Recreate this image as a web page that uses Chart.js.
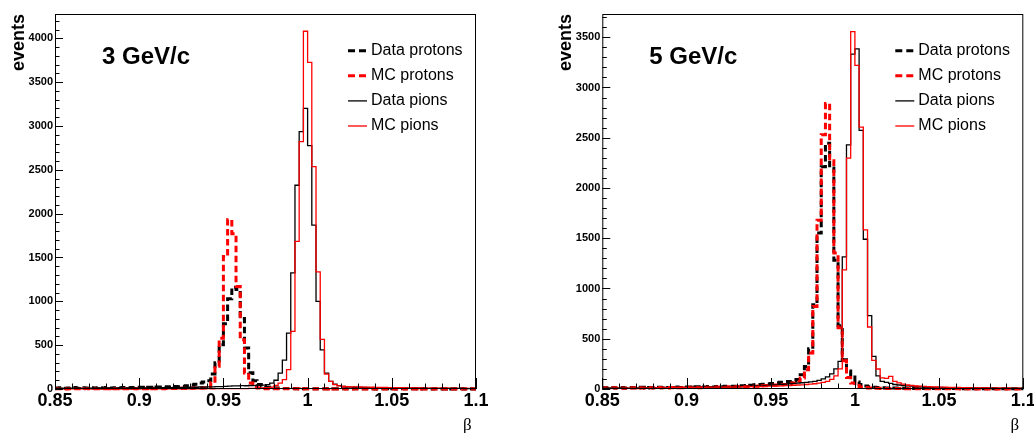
<!DOCTYPE html>
<html>
<head>
<meta charset="utf-8">
<script src="https://cdn.jsdelivr.net/npm/chart.js@4/dist/chart.umd.min.js"></script>
<style>
html, body { margin: 0; padding: 0; background: #fff; }
#wrap { display: flex; width: 1034px; height: 433px; overflow: hidden; }
canvas { display: block; }
</style>
</head>
<body>
<div id="wrap">
    <canvas id="p3" width="517" height="433"></canvas>
    <canvas id="p5" width="517" height="433"></canvas>
</div>
<script>
// ----- Binning and axis labels
const binLo = 0.85, binHi = 1.1, binWidth = 0.0025;
const xTicks = [0.85, 0.9, 0.95, 1, 1.05, 1.1];
const xTickLabels = ['0.85', '0.9', '0.95', '1', '1.05', '1.1'];
const yTicks3 = [0, 500, 1000, 1500, 2000, 2500, 3000, 3500, 4000];
const yTicks5 = [0, 500, 1000, 1500, 2000, 2500, 3000, 3500];
const legendLabels = ['Data protons', 'MC protons', 'Data pions', 'MC pions'];

// ----- 3 GeV/c histograms (100 bins, 0.85 .. 1.1)
const dataProtons3 = [
    10, 14, 8, 12, 16, 9, 13, 11, 15, 10,
    14, 12, 17, 10, 15, 13, 18, 12, 16, 14,
    19, 15, 21, 17, 23, 20, 26, 22, 29, 25,
    32, 38, 45, 55, 68, 80, 95, 170, 300, 505,
    745, 1030, 1160, 1135, 805, 467, 186, 95, 50, 30,
    20, 14, 10, 8, 6, 5, 5, 4, 4, 3,
    3, 3, 2, 3, 2, 2, 3, 2, 2, 3,
    2, 3, 2, 2, 3, 2, 1, 2, 2, 3,
    2, 1, 2, 3, 2, 2, 1, 2, 2, 1,
    2, 2, 1, 2, 1, 2, 2, 1, 2, 1
];
const mcProtons3 = [
    2, 3, 1, 4, 2, 3, 2, 5, 3, 2,
    4, 3, 2, 5, 3, 4, 2, 3, 5, 4,
    3, 4, 6, 3, 5, 4, 6, 5, 7, 6,
    8, 7, 9, 10, 12, 15, 25, 70, 260, 580,
    1512, 1929, 1770, 1170, 562, 182, 68, 25, 10, 5,
    4, 3, 3, 2, 2, 3, 2, 2, 1, 2,
    2, 1, 2, 2, 1, 2, 1, 1, 2, 1,
    1, 2, 1, 1, 2, 1, 1, 2, 1, 1,
    1, 1, 2, 1, 1, 1, 2, 1, 1, 1,
    1, 1, 1, 2, 1, 1, 1, 1, 1, 1
];
const dataPions3 = [
    8, 10, 7, 11, 9, 12, 8, 10, 11, 9,
    12, 10, 13, 9, 11, 14, 10, 12, 13, 11,
    14, 12, 15, 13, 16, 14, 17, 15, 18, 16,
    19, 18, 21, 20, 23, 22, 25, 24, 27, 28,
    30, 33, 35, 36, 38, 37, 40, 39, 42, 45,
    50, 68, 100, 182, 330, 638, 1325, 2324, 2936, 3200,
    2776, 1870, 1000, 446, 182, 87, 55, 38, 30, 25,
    22, 20, 19, 17, 16, 15, 14, 13, 13, 12,
    12, 11, 11, 10, 10, 9, 9, 9, 8, 8,
    8, 7, 7, 7, 6, 6, 6, 5, 5, 5
];
const mcPions3 = [
    2, 1, 3, 2, 1, 2, 3, 1, 2, 2,
    1, 3, 2, 2, 1, 2, 3, 2, 1, 2,
    2, 3, 1, 2, 3, 2, 2, 3, 2, 3,
    3, 2, 3, 4, 3, 3, 4, 3, 4, 4,
    4, 5, 4, 5, 5, 5, 6, 8, 10, 12,
    15, 22, 40, 68, 106, 220, 657, 1683, 2822, 4080,
    3726, 2537, 1335, 566, 170, 87, 50, 35, 30, 27,
    25, 24, 23, 22, 21, 20, 19, 18, 17, 16,
    15, 15, 14, 13, 13, 12, 12, 11, 11, 10,
    10, 9, 9, 9, 8, 8, 8, 7, 7, 7
];

// ----- 5 GeV/c histograms
const dataProtons5 = [
    12, 9, 15, 11, 14, 10, 16, 12, 13, 17,
    11, 15, 13, 18, 12, 16, 14, 19, 15, 17,
    20, 16, 22, 18, 21, 24, 20, 26, 23, 27,
    25, 28, 30, 33, 36, 38, 42, 45, 48, 52,
    55, 60, 66, 70, 75, 80, 95, 143, 225, 400,
    839, 1551, 2210, 2446, 2200, 1280, 630, 290, 180, 120,
    70, 45, 30, 22, 18, 15, 12, 11, 10, 9,
    8, 8, 7, 7, 6, 6, 6, 5, 5, 5,
    5, 4, 4, 4, 4, 3, 3, 3, 3, 3,
    3, 2, 3, 2, 2, 2, 3, 2, 2, 2
];
const mcProtons5 = [
    10, 7, 12, 9, 11, 8, 13, 10, 12, 9,
    11, 13, 10, 14, 12, 11, 15, 13, 12, 16,
    14, 17, 15, 13, 18, 16, 19, 17, 20, 18,
    22, 20, 24, 23, 26, 25, 28, 30, 32, 35,
    38, 40, 42, 45, 50, 60, 75, 109, 192, 358,
    822, 1680, 2529, 2840, 2270, 1352, 610, 280, 115, 60,
    35, 20, 14, 10, 8, 7, 6, 5, 5, 4,
    4, 4, 3, 3, 3, 3, 2, 2, 2, 2,
    2, 2, 2, 2, 2, 1, 2, 1, 1, 1,
    1, 1, 1, 1, 1, 1, 1, 1, 1, 1
];
const dataPions5 = [
    8, 10, 9, 12, 10, 11, 9, 13, 11, 12,
    13, 11, 14, 12, 15, 13, 14, 16, 15, 17,
    16, 18, 17, 19, 18, 20, 19, 22, 21, 23,
    22, 24, 25, 27, 26, 28, 30, 32, 34, 36,
    40, 42, 45, 48, 52, 55, 58, 62, 66, 70,
    75, 85, 100, 120, 150, 200, 275, 1315, 2428, 3331,
    3384, 2574, 1490, 730, 325, 130, 76, 65, 55, 45,
    40, 35, 31, 28, 25, 22, 20, 18, 17, 16,
    15, 14, 13, 12, 12, 11, 10, 10, 9, 9,
    8, 8, 8, 7, 7, 7, 6, 6, 6, 5
];
const mcPions5 = [
    5, 7, 6, 8, 7, 9, 8, 10, 9, 11,
    10, 12, 11, 13, 12, 14, 13, 15, 14, 16,
    15, 17, 16, 18, 17, 19, 18, 20, 19, 21,
    20, 22, 21, 23, 22, 24, 23, 25, 26, 28,
    28, 30, 32, 34, 35, 37, 40, 42, 45, 48,
    52, 58, 65, 75, 95, 130, 200, 1185, 2297, 3556,
    3220, 2605, 1584, 617, 285, 199, 110, 105, 125, 75,
    60, 48, 40, 35, 30, 28, 26, 24, 22, 20,
    19, 18, 17, 16, 15, 14, 13, 12, 12, 11,
    10, 10, 9, 9, 8, 8, 8, 7, 7, 7
];

const SANS = "'Liberation Sans', Arial, Helvetica, sans-serif";
const styles = [
    { color: '#000000', dash: [6.5, 3.5], width: 3 },   // Data protons
    { color: '#ff0000', dash: [6.5, 3.5], width: 3 },   // MC protons
    { color: '#000000', dash: [], width: 1.3 },         // Data pions
    { color: '#ff0000', dash: [], width: 1.3 }          // MC pions
];

// histogram -> step points at bin low edges, plus closing point at the upper edge
function toSteps(values) {
    const pts = values.map((v, i) => ({ x: binLo + i * binWidth, y: v }));
    pts.push({ x: binLo + values.length * binWidth, y: values[values.length - 1] });
    return pts;
}

// ROOT-like frame, inward ticks, legend and momentum label
const rootDecor = {
    id: 'rootDecor',
    afterDatasetsDraw(chart, args, opts) {
        const { ctx, chartArea: a, scales: { x, y } } = chart;
        ctx.save();
        ctx.strokeStyle = '#000';
        ctx.lineWidth = 1;
        ctx.setLineDash([]);
        ctx.strokeRect(a.left + 0.5, a.top + 0.5, a.right - a.left - 1, a.bottom - a.top - 1);

        ctx.beginPath();
        for (let v = 0; v <= y.max; v += 100) {
            const py = Math.round(y.getPixelForValue(v)) + 0.5;
            const len = v % 500 === 0 ? 8 : 4.5;
            ctx.moveTo(a.left, py); ctx.lineTo(a.left + len, py);
        }
        for (let k = 0; k <= 25; k++) {
            const px = Math.round(x.getPixelForValue(binLo + k * 0.01)) + 0.5;
            const len = k % 5 === 0 ? 11 : 5.5;
            ctx.moveTo(px, a.bottom); ctx.lineTo(px, a.bottom - len);
        }
        ctx.stroke();

        // legend
        ctx.textBaseline = 'middle';
        ctx.textAlign = 'left';
        ctx.font = '16px ' + SANS;
        legendLabels.forEach((lab, i) => {
            const cy = a.top + 36.7 + i * 25.1;
            const st = styles[i];
            ctx.beginPath();
            ctx.strokeStyle = st.color;
            ctx.lineWidth = st.width;
            ctx.setLineDash(st.dash.length ? [7, 4] : []);
            ctx.moveTo(a.left + 293, cy);
            ctx.lineTo(a.left + 312, cy);
            ctx.stroke();
            ctx.fillStyle = '#000';
            ctx.fillText(lab, a.left + 316, cy);
        });

        ctx.setLineDash([]);
        ctx.font = 'bold 24px ' + SANS;
        ctx.textBaseline = 'alphabetic';
        ctx.fillText(opts.label, a.left + 47, a.top + 49.5);
        ctx.restore();
    }
};

function makePanel(id, label, series, yMax, yTicks, yWidth, padRight) {
    return new Chart(document.getElementById(id), {
        type: 'line',
        data: {
            datasets: series.map((vals, i) => ({
                label: legendLabels[i],
                data: toSteps(vals),
                stepped: 'before',
                borderColor: styles[i].color,
                borderWidth: styles[i].width,
                borderDash: styles[i].dash,
                pointRadius: 0,
                fill: false,
                order: 4 - i,
                clip: 3
            }))
        },
        options: {
            responsive: false,
            animation: false,
            layout: { padding: { top: 14, right: padRight, left: 0, bottom: 0 } },
            plugins: {
                legend: { display: false },
                tooltip: { enabled: false },
                rootDecor: { label: label }
            },
            scales: {
                x: {
                    type: 'linear', min: binLo, max: binHi,
                    grid: { display: false, drawTicks: false },
                    border: { display: false },
                    afterBuildTicks: s => { s.ticks = xTicks.map(v => ({ value: v })); },
                    afterFit: s => { s.height = 44; s.paddingLeft = 0; s.paddingRight = 0; },
                    ticks: {
                        autoSkip: false, maxRotation: 0, padding: 1, color: '#000',
                        font: { family: SANS, size: 18, weight: 'bold' },
                        callback: (v, i) => xTickLabels[i]
                    },
                    title: {
                        display: true, text: 'β ', align: 'end', color: '#000',
                        padding: { top: 0, bottom: 0 },
                        font: { family: "'Liberation Serif', 'DejaVu Serif', serif", size: 17, lineHeight: 0.85 }
                    }
                },
                y: {
                    min: 0, max: yMax,
                    grid: { display: false, drawTicks: false },
                    border: { display: false },
                    afterBuildTicks: s => { s.ticks = yTicks.map(v => ({ value: v })); },
                    afterFit: s => { s.width = yWidth; s.paddingTop = 0; s.paddingBottom = 0; },
                    ticks: {
                        padding: 2, color: '#000',
                        font: { family: SANS, size: 11, weight: 'bold' },
                        callback: v => String(v)
                    },
                    title: {
                        display: true, text: 'events', align: 'end', color: '#000',
                        padding: { top: yWidth - 47, bottom: 0 },
                        font: { family: SANS, size: 18, weight: 'bold' }
                    }
                }
            }
        },
        plugins: [rootDecor]
    });
}

makePanel('p3', '3 GeV/c', [dataProtons3, mcProtons3, dataPions3, mcPions3], 4277, yTicks3, 55, 41);
makePanel('p5', '5 GeV/c', [dataProtons5, mcProtons5, dataPions5, mcPions5], 3731, yTicks5, 85.3, 10.7);
</script>
</body>
</html>
